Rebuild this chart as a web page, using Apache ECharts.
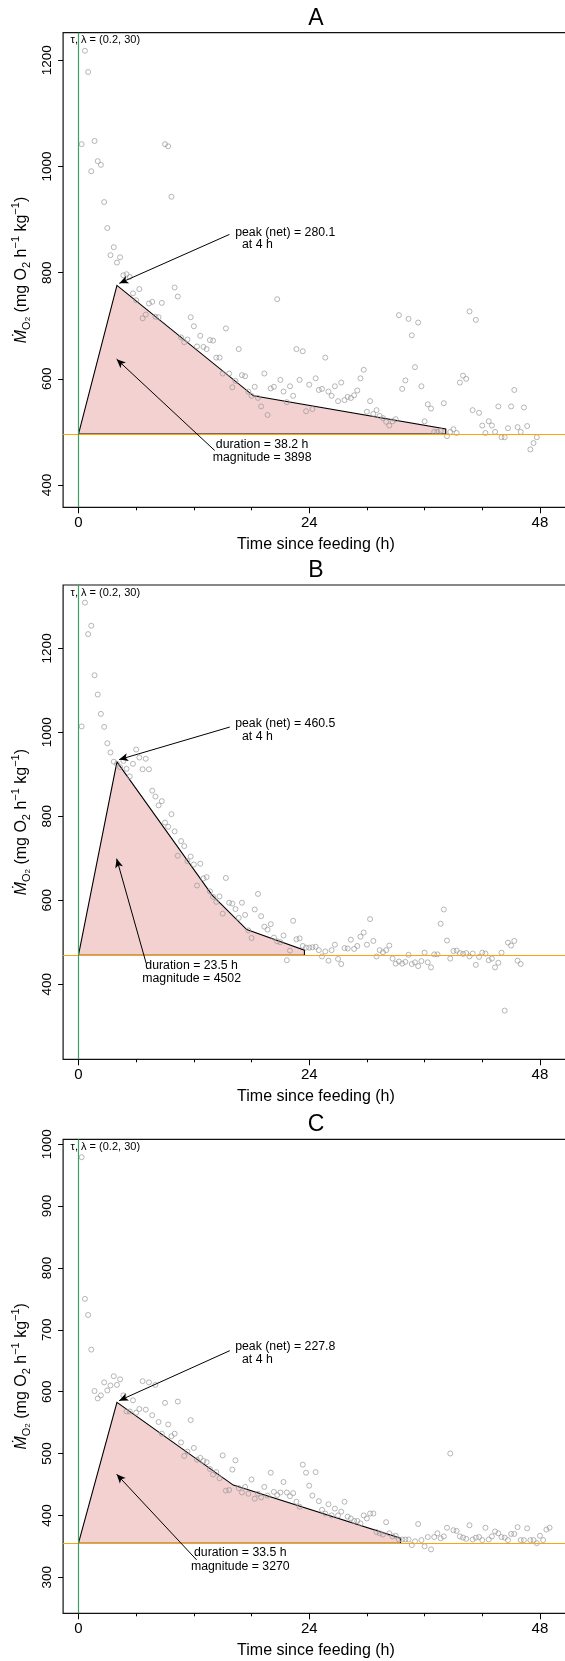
<!DOCTYPE html>
<html lang="en">
<head>
<meta charset="UTF-8">
<title>SDA panels</title>
<script src="https://cdn.jsdelivr.net/npm/echarts@6/dist/echarts.min.js"></script>
<style>
  html, body { margin: 0; padding: 0; background: #fff; }
  #chart { width: 565px; height: 1661px; }
</style>
</head>
<body>
<div id="chart"></div>
<script>
// sampling times (h since feeding), one reading every 20 min
const hours = [
  0.33, 0.67, 1, 1.33, 1.67, 2, 2.33, 2.67, 3, 3.33, 3.67, 4, 4.33, 4.67, 5, 5.33, 5.67, 6, 6.33, 6.67,
  7, 7.33, 7.67, 8, 8.33, 8.67, 9, 9.33, 9.67, 10, 10.33, 10.67, 11, 11.33, 11.67, 12, 12.33, 12.67, 13, 13.33,
  13.67, 14, 14.33, 14.67, 15, 15.33, 15.67, 16, 16.33, 16.67, 17, 17.33, 17.67, 18, 18.33, 18.67, 19, 19.33, 19.67, 20,
  20.33, 20.67, 21, 21.33, 21.67, 22, 22.33, 22.67, 23, 23.33, 23.67, 24, 24.33, 24.67, 25, 25.33, 25.67, 26, 26.33, 26.67,
  27, 27.33, 27.67, 28, 28.33, 28.67, 29, 29.33, 29.67, 30, 30.33, 30.67, 31, 31.33, 31.67, 32, 32.33, 32.67, 33, 33.33,
  33.67, 34, 34.33, 34.67, 35, 35.33, 35.67, 36, 36.33, 36.67, 37, 37.33, 37.67, 38, 38.33, 38.67, 39, 39.33, 39.67, 40,
  40.33, 40.67, 41, 41.33, 41.67, 42, 42.33, 42.67, 43, 43.33, 43.67, 44, 44.33, 44.67, 45, 45.33, 45.67, 46, 46.33, 46.67,
  47, 47.33, 47.67, 48, 48.33, 48.67, 49
];

// MO2 readings (mg O2 h-1 kg-1)
const mo2A = [
  1042, 1218, 1178, 991, 1048, 1010, 1003, 933, 884, 833,
  848, 819, 829, 795, 797, 792, 761, 748, 769, 714,
  721, 742, 745, 717, 716, 743, 1042, 1038, 943, 772,
  755, 678, 669, 674, 716, 699, 661, 681, 660, 656,
  673, 672, 640, 640, 610, 695, 610, 584, 596, 656,
  607, 605, 576, 568, 585, 564, 548, 610, 532, 582,
  585, 750, 598, 576, 556, 586, 568, 656, 598, 652,
  539, 589, 543, 601, 579, 581, 640, 576, 568, 586,
  558, 593, 560, 566, 564, 569, 578, 601, 617, 538,
  558, 534, 541, 530, 526, 519, 512, 520, 524, 720,
  581, 597, 713, 682, 622, 706, 586, 520, 552, 544,
  500, 500, 502, 554, 492, 500, 505, 498, 593, 606,
  600, 727, 541, 711, 536, 512, 498, 520, 512, 500,
  548, 490, 490, 507, 548, 579, 509, 500, 546, 511,
  467, 479, 490
];
const mo2B = [
  1014, 1309, 1234, 1254, 1136, 1090, 1044, 1013, 974, 952,
  930, 925, 917, 932, 913, 895, 925, 959, 940, 912,
  937, 912, 861, 847, 826, 836, 785, 775, 805, 764,
  706, 741, 729, 693, 704, 685, 635, 687, 652, 655,
  621, 608, 596, 609, 568, 653, 594, 592, 579, 558,
  594, 565, 528, 510, 578, 615, 562, 537, 530, 543,
  511, 502, 500, 516, 457, 480, 551, 507, 509, 491,
  487, 487, 488, 489, 481, 466, 478, 456, 481, 494,
  460, 448, 486, 485, 506, 484, 491, 513, 523, 494,
  555, 503, 466, 481, 476, 481, 492, 461, 449, 454,
  449, 453, 470, 448, 452, 443, 455, 475, 452, 440,
  471, 471, 544, 578, 504, 461, 479, 480, 474, 472,
  474, 466, 473, 446, 465, 475, 473, 457, 461, 440,
  451, 475, 337, 499, 492, 503, 456, 448
];
const mo2C = [
  979, 750, 724, 668, 601, 589, 594, 615, 602, 610,
  625, 611, 620, 594, 568, 568, 586, 566, 572, 617,
  571, 615, 562, 611, 551, 532, 582, 547, 528, 532,
  584, 518, 496, 503, 554, 509, 490, 493, 488, 486,
  475, 466, 470, 460, 497, 440, 441, 474, 489, 444,
  437, 446, 435, 458, 427, 435, 429, 446, 432, 469,
  438, 433, 437, 454, 437, 431, 436, 422, 414, 482,
  469, 448, 432, 470, 423, 409, 403, 418, 400, 411,
  400, 406, 422, 398, 395, 391, 391, 387, 400, 395,
  403, 403, 373, 371, 369, 389, 371, 366, 367, 361,
  361, 361, 361, 352, 358, 386, 360, 350, 365, 345,
  365, 371, 363, 366, 380, 500, 376, 375, 366, 364,
  362, 384, 361, 364, 365, 360, 380, 361, 366, 374,
  371, 365, 364, 360, 370, 370, 381, 360, 360, 379,
  360, 360, 355, 367, 360, 377, 380
];

// fitted SDA outline (vertices)
const shapeHoursA = [0, 4, 18.2, 38.2, 38.2];
const shapeMo2A = [496, 776.1, 568, 505.5, 496];
const shapeHoursB = [0, 4, 13.9, 17.5, 23.5, 23.5];
const shapeMo2B = [469, 929.5, 612, 530, 481, 469];
const shapeHoursC = [0, 4, 16.1, 33.5, 33.5];
const shapeMo2C = [355, 582.8, 449, 363, 355];

const panelNames = ['A', 'B', 'C'];
const baselines = [496, 469, 355];
const peakNet = ['280.1', '460.5', '227.8'];
const durations = ['38.2', '23.5', '33.5'];
const magnitudes = ['3898', '4502', '3270'];

const xTicks = [0, 24, 48];
const xMinorTicks = [6, 12, 18, 30, 36, 42];
const yTicksA = [400, 600, 800, 1000, 1200];
const yTicksB = [400, 600, 800, 1000, 1200];
const yTicksC = [300, 400, 500, 600, 700, 800, 900, 1000];

// layout per panel
const panels = [
  { top: 32.7, height: 474.6, ymin: 358, ymax: 1252, ticks: yTicksA, values: mo2A, sx: shapeHoursA, sy: shapeMo2A,
    peakText: [16.3, 876], peakFrom: [15.7, 872], peakTo: [4.25, 780],
    durText: [19.1, 477], durFrom: [14.17, 465], durTo: [3.97, 637] },
  { top: 585, height: 474.3, ymin: 221, ymax: 1351, ticks: yTicksB, values: mo2B, sx: shapeHoursB, sy: shapeMo2B,
    peakText: [16.3, 1019.8], peakFrom: [15.74, 1012.6], peakTo: [4.23, 935],
    durText: [11.77, 445], durFrom: [7.05, 449], durTo: [3.97, 699] },
  { top: 1139.3, height: 474, ymin: 241.7, ymax: 1008, ticks: yTicksC, values: mo2C, sx: shapeHoursC, sy: shapeMo2C,
    peakText: [16.3, 672.3], peakFrom: [15.74, 666.3], peakTo: [4.23, 585.5],
    durText: [16.83, 339.3], durFrom: [12.29, 328], durTo: [3.97, 466.5] }
];

const FONT = '"Liberation Sans", Arial, Helvetica, sans-serif';
const XMIN = -1.6, XMAX = 51.0;
const GRID_LEFT = 63.1, GRID_WIDTH = 505.7;

const yName = '{it|\u1E40}{sub|O}{sub2|2} (mg O{sub|2} h{sup|\u22121} kg{sup|\u22121})';

function plainNumber(v) { return String(v); }

const option = {
  animation: false,
  backgroundColor: '#fff',
  textStyle: { fontFamily: FONT },
  title: [],
  grid: [],
  xAxis: [],
  yAxis: [],
  series: []
};

panels.forEach(function (p, i) {
  option.title.push({
    text: panelNames[i],
    left: GRID_LEFT + GRID_WIDTH / 2,
    textAlign: 'center',
    top: p.top - 26,
    padding: 0,
    textStyle: { fontSize: 23, fontWeight: 'normal', color: '#000', fontFamily: FONT }
  });

  option.grid.push({
    left: GRID_LEFT, top: p.top, width: GRID_WIDTH, height: p.height,
    show: true, borderColor: '#111', borderWidth: 1.2, backgroundColor: 'transparent',
    outerBoundsMode: 'none'
  });

  // main x axis: labelled ticks
  option.xAxis.push({
    gridIndex: i, type: 'value', min: XMIN, max: XMAX, position: 'bottom',
    axisLine: { show: false, onZero: false },
    splitLine: { show: false },
    axisTick: { show: true, customValues: xTicks, length: 6, lineStyle: { color: '#000', width: 1 } },
    axisLabel: { customValues: xTicks, formatter: plainNumber, fontSize: 15, color: '#000', margin: 8, fontFamily: FONT },
    name: 'Time since feeding (h)', nameLocation: 'middle', nameGap: 29,
    nameTextStyle: { fontSize: 16, color: '#000', fontFamily: FONT, lineHeight: 16 }
  });
  // minor x ticks
  option.xAxis.push({
    gridIndex: i, type: 'value', min: XMIN, max: XMAX, position: 'bottom',
    axisLine: { show: false, onZero: false },
    splitLine: { show: false },
    axisTick: { show: true, customValues: xMinorTicks, length: 3, lineStyle: { color: '#000', width: 1 } },
    axisLabel: { show: false }
  });

  option.yAxis.push({
    gridIndex: i, type: 'value', min: p.ymin, max: p.ymax,
    axisLine: { show: false, onZero: false },
    splitLine: { show: false },
    axisTick: { show: true, customValues: p.ticks, length: 5, lineStyle: { color: '#000', width: 1 } },
    axisLabel: { customValues: p.ticks, formatter: plainNumber, rotate: 90, fontSize: 13.5, color: '#000', margin: 9, fontFamily: FONT },
    name: yName, nameLocation: 'middle', nameGap: 31,
    nameTextStyle: {
      fontSize: 16, color: '#000', fontFamily: FONT, lineHeight: 22,
      rich: {
        it: { fontSize: 16, fontStyle: 'italic', fontFamily: FONT },
        sub: { fontSize: 11, verticalAlign: 'bottom', fontFamily: FONT, lineHeight: 22 },
        sub2: { fontSize: 8, verticalAlign: 'bottom', fontFamily: FONT, lineHeight: 22 },
        sup: { fontSize: 11, verticalAlign: 'top', fontFamily: FONT, lineHeight: 22 }
      }
    }
  });

  const xi = i * 2;

  // reference lines: tau start (green) and baseline (orange)
  option.series.push({
    type: 'line', xAxisIndex: xi, yAxisIndex: i, data: [], silent: true, z: 1,
    markLine: {
      silent: true, symbol: 'none', animation: false, label: { show: false },
      data: [
        { yAxis: baselines[i], lineStyle: { color: '#ffa500', width: 1.2, type: 'solid' } },
        { xAxis: 0, lineStyle: { color: '#3f9f63', width: 1.2, type: 'solid' } }
      ]
    }
  });

  // SDA area
  option.series.push({
    type: 'custom', xAxisIndex: xi, yAxisIndex: i, silent: true, z: 2,
    data: [[p.sx[0], p.sy[0]]],
    renderItem: function (params, api) {
      const pts = p.sx.map(function (x, j) { return api.coord([x, p.sy[j]]); });
      return {
        type: 'polygon',
        shape: { points: pts },
        style: { fill: '#f3d1d1', stroke: '#000', lineWidth: 1.1 }
      };
    }
  });

  // measurements
  option.series.push({
    type: 'scatter', xAxisIndex: xi, yAxisIndex: i, silent: true, z: 3,
    symbol: 'circle', symbolSize: 5,
    itemStyle: { color: 'rgba(255,255,255,0)', borderColor: '#999', borderWidth: 0.9 },
    data: p.values.map(function (v, j) { return [hours[j], v]; }),
    markLine: {
      silent: true, animation: false, symbol: ['none', 'arrow'], symbolSize: [6, 9],
      label: { show: false },
      lineStyle: { color: '#000', width: 1, type: 'solid' },
      data: [
        [{ coord: p.peakFrom }, { coord: p.peakTo }],
        [{ coord: p.durFrom }, { coord: p.durTo }]
      ]
    }
  });

  // annotations
  option.series.push({
    type: 'custom', xAxisIndex: xi, yAxisIndex: i, silent: true, z: 4,
    data: [[p.peakText[0], p.peakText[1]]],
    renderItem: function (params, api) {
      const pk = api.coord(p.peakText);
      const du = api.coord(p.durText);
      const corner = api.coord([XMIN, p.ymax]);
      return {
        type: 'group',
        children: [
          { type: 'text', x: pk[0], y: pk[1] - 6.4,
            style: { text: 'peak (net) = ' + peakNet[i] + '\n  at 4 h', fill: '#000',
              font: '12.3px ' + FONT, lineHeight: 12.7, align: 'left', verticalAlign: 'top' } },
          { type: 'text', x: du[0], y: du[1] - 6.6,
            style: { text: 'duration = ' + durations[i] + ' h\nmagnitude = ' + magnitudes[i], fill: '#000',
              font: '12.3px ' + FONT, lineHeight: 13.3, align: 'center', verticalAlign: 'top' } },
          { type: 'text', x: corner[0] + 7.5, y: corner[1] + 7.5,
            style: { text: '\u03C4, \u03BB = (0.2, 30)', fill: '#000',
              font: '11px ' + FONT, align: 'left', verticalAlign: 'middle' } }
        ]
      };
    }
  });
});

const chart = echarts.init(document.getElementById('chart'), null, { renderer: 'canvas' });
chart.setOption(option);
</script>
</body>
</html>
